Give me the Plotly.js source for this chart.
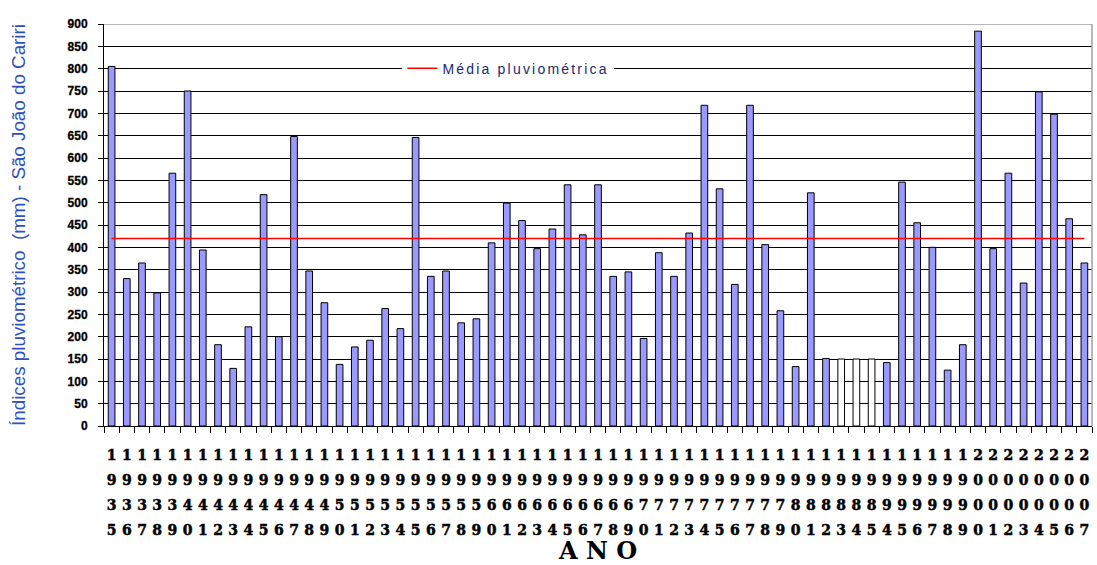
<!DOCTYPE html>
<html>
<head>
<meta charset="utf-8">
<script src="https://cdn.plot.ly/plotly-3.0.1.min.js"></script>
<style>
html,body{margin:0;padding:0;background:#fff;}
#chart{width:1097px;height:565px;}
.xtick text{stroke:#000;stroke-width:0.5px;}
.ytick text{stroke:#000;stroke-width:0.3px;}
.legendtext{letter-spacing:2.2px;}
</style>
</head>
<body>
<div id="chart"></div>
<script>
const years = ["1935","1936","1937","1938","1939","1940","1941","1942","1943","1944","1945","1946","1947","1948","1949",
  "1950","1951","1952","1953","1954","1955","1956","1957","1958","1959","1960","1961","1962","1963","1964","1965",
  "1966","1967","1968","1969","1970","1971","1972","1973","1974","1975","1976","1977","1978","1979","1980","1981",
  "1982","1983","1984","1985","1994","1995","1996","1997","1998","1999","2000","2001","2002","2003","2004","2005",
  "2006","2007"];
const rainfall = [805,330,365,298,566,750,394,182,129,222,518,200,648,347,276,
  138,177,192,263,218,646,335,347,231,240,410,499,460,397,441,540,
  428,540,335,345,196,388,335,432,718,531,317,718,406,258,133,522,
  151,150,150,150,142,546,455,400,125,182,884,397,566,320,748,698,
  464,365];
const hollowYears = ["1983","1984","1985"];
const meanRainfall = 420;
const tickLabels = years.map(y => y.split("").join("<br>"));

const barColors = years.map(y => hollowYears.includes(y) ? "#ffffff" : "#9999ff");

const data = [
  {
    type: "bar",
    x: years,
    y: rainfall,
    marker: {color: barColors, line: {color: "#000000", width: 1}},
    showlegend: false,
    hoverinfo: "x+y"
  },
  {
    type: "scatter",
    mode: "lines",
    x: [years[0], years[years.length - 1]],
    y: [meanRainfall, meanRainfall],
    name: "Média pluviométrica",
    line: {color: "#ff0000", width: 1.5}
  }
];

const layout = {
  width: 1097,
  height: 565,
  margin: {l: 104, r: 5, t: 24, b: 139},
  paper_bgcolor: "#ffffff",
  plot_bgcolor: "#ffffff",
  bargap: 0.56,
  showlegend: true,
  legend: {
    x: 0.302, y: 0.889, xanchor: "left", yanchor: "middle",
    bgcolor: "#ffffff", borderwidth: 0,
    font: {family: "Liberation Sans, Arial, sans-serif", size: 14, color: "#1a2a6c"},
    itemwidth: 30,
    entrywidth: 216
  },
  xaxis: {
    type: "category",
    tickmode: "array",
    tickvals: years,
    ticktext: tickLabels,
    tickangle: 0,
    tickson: "boundaries",
    ticks: "outside",
    ticklen: 6,
    tickcolor: "#000000",
    ticklabelstandoff: 16,
    showline: true,
    linecolor: "#000000",
    linewidth: 1,
    showgrid: false,
    tickfont: {family: "DejaVu Serif, Liberation Serif, serif", size: 14, color: "#000000", weight: "bold"},
    title: {
      text: "A N O",
      font: {family: "DejaVu Serif, Liberation Serif, serif", size: 24, color: "#000000", weight: "bold"},
      standoff: 32
    },
    automargin: false,
    fixedrange: true
  },
  yaxis: {
    range: [0, 900],
    dtick: 50,
    tick0: 0,
    showgrid: true,
    gridcolor: "#000000",
    gridwidth: 1,
    zeroline: false,
    showline: true,
    linecolor: "#000000",
    linewidth: 1,
    ticks: "outside",
    ticklen: 5,
    tickcolor: "#000000",
    ticklabelstandoff: 8,
    tickfont: {family: "Liberation Sans Narrow, Arial Narrow, sans-serif", size: 12, color: "#000000", weight: "bold"},
    title: {
      text: "Índices pluviométrico  (mm) - São João do Cariri",
      font: {family: "Liberation Sans Narrow, Arial Narrow, sans-serif", size: 18.8, color: "#3050c0"},
      standoff: 36
    },
    automargin: false,
    fixedrange: true
  },
  shapes: [
    {type: "line", xref: "paper", yref: "y", x0: 0, x1: 1, y0: 900, y1: 900, line: {color: "#a0a0a0", width: 1.5}},
    {type: "line", xref: "paper", yref: "paper", x0: 1, x1: 1, y0: 0, y1: 1, line: {color: "#a0a0a0", width: 1.5}}
  ]
};

function spreadTickLines() {
  document.querySelectorAll(".xtick text").forEach(t => {
    const lines = t.querySelectorAll("tspan.line");
    lines.forEach((ln, i) => { if (i > 0) ln.setAttribute("dy", (i * 1.78).toFixed(2) + "em"); });
  });
}

Plotly.newPlot("chart", data, layout, {displayModeBar: false, staticPlot: true}).then(spreadTickLines);
</script>
</body>
</html>
